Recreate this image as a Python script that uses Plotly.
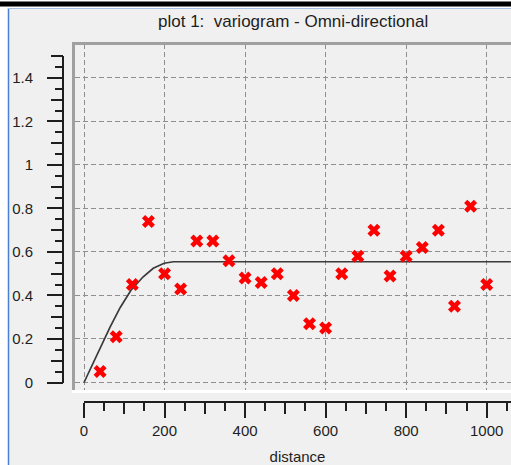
import plotly.graph_objects as go

# ---- data ----
lag_distance = [40, 80, 120, 160, 200, 240, 280, 320, 360, 400, 440, 480, 520,
                560, 600, 640, 680, 720, 760, 800, 840, 880, 920, 960, 1000]
semivariance = [0.05, 0.21, 0.45, 0.74, 0.50, 0.43, 0.65, 0.65, 0.56, 0.48, 0.46, 0.50, 0.40,
                0.27, 0.25, 0.50, 0.58, 0.70, 0.49, 0.58, 0.62, 0.70, 0.35, 0.81, 0.45]

model_distance = [0, 30, 65, 90, 117, 147, 172, 199, 222, 1060]
model_gamma = [0, 0.12, 0.256, 0.345, 0.425, 0.486, 0.525, 0.548, 0.555, 0.555]

x_major_ticks = [0, 200, 400, 600, 800, 1000]
y_major_ticks = [0, 0.2, 0.4, 0.6, 0.8, 1, 1.2, 1.4]
y_tick_text = ["0", "0.2", "0.4", "0.6", "0.8", "1", "1.2", "1.4"]

title_text = "plot 1:\u00a0 variogram - Omni-directional"
x_title = "distance"

# ---- layout helpers (pixels -> paper) ----
W, H = 511, 465
def px(x):
    return x / W
def py(y):
    return 1 - y / H

FONT = "Liberation Sans"
TXT = "#1e1e1e"
GRID = "#8f8f8f"

fig = go.Figure()

fig.add_trace(go.Scatter(
    x=model_distance, y=model_gamma, mode="lines",
    line=dict(color="#3a3a3a", width=1.7),
    hoverinfo="skip", showlegend=False, cliponaxis=True))

fig.add_trace(go.Scatter(
    x=lag_distance, y=semivariance, mode="markers",
    marker=dict(symbol="x", size=11.5, color="#ff0000", line=dict(width=0)),
    showlegend=False))

# dummy traces so the ruler axes get drawn
for xa, ya in [("x3", "y3"), ("x3", "y4"), ("x4", "y3")]:
    fig.add_trace(go.Scatter(x=[0], y=[0], xaxis=xa, yaxis=ya, mode="markers",
                             marker=dict(opacity=0), hoverinfo="skip", showlegend=False))

grid_common = dict(showgrid=True, gridcolor=GRID, gridwidth=1, griddash="5px,3px",
                   zeroline=False, showline=False, ticks="", showticklabels=False,
                   fixedrange=True, automargin=False)

ruler_common = dict(showgrid=False, zeroline=False, linecolor=TXT,
                    linewidth=2, ticks="outside", tickcolor=TXT, tickwidth=2,
                    fixedrange=True, anchor="free", automargin=False,
                    tickfont=dict(family=FONT, size=15, color=TXT))

x_lo = (75 - 84) / 0.4027
x_hi = (511 - 84) / 0.4027
y_lo = (382.5 - 390) / 217.6
y_hi = (382.5 - 44) / 217.6

fig.update_layout(
    width=W, height=H, autosize=False,
    margin=dict(l=0, r=0, t=0, b=0, pad=0, autoexpand=False),
    paper_bgcolor="#ffffff",
    plot_bgcolor="rgba(0,0,0,0)",
    showlegend=False,
    xaxis=dict(domain=[px(75), 1], range=[x_lo, x_hi], tickvals=x_major_ticks, **grid_common),
    yaxis=dict(domain=[py(390), py(44)], range=[y_lo, y_hi], tickvals=y_major_ticks, **grid_common),
    xaxis3=dict(domain=[px(84), 1], range=[0, x_hi], position=py(402), side="bottom",
                tickvals=x_major_ticks, ticklen=15, showline=True,
                minor=dict(dtick=100, tick0=0, ticklen=11, tickwidth=2, tickcolor=TXT, ticks="outside"),
                title=dict(text=x_title, font=dict(family=FONT, size=15, color=TXT), standoff=14),
                **ruler_common),
    xaxis4=dict(overlaying="x3", range=[0, x_hi], position=py(402), side="bottom",
                dtick=50, tick0=0, ticklen=8, showticklabels=False, showline=False,
                **ruler_common),
    yaxis3=dict(domain=[py(382.5), py(56.1)], range=[0, 1.5], position=px(63), side="left",
                tickvals=y_major_ticks, ticktext=y_tick_text, ticklen=15, showline=True,
                minor=dict(dtick=0.1, tick0=0, ticklen=11, tickwidth=2, tickcolor=TXT, ticks="outside"),
                ticklabelstandoff=11,
                **ruler_common),
    yaxis4=dict(overlaying="y3", range=[0, 1.5], position=px(63), side="left",
                dtick=0.05, tick0=0, ticklen=8, showticklabels=False, showline=False,
                **ruler_common),
    annotations=[dict(text=title_text, x=px(293), y=py(21), xref="paper", yref="paper",
                      xanchor="center", yanchor="middle", showarrow=False,
                      font=dict(family=FONT, size=17, color=TXT))],
    shapes=[
        dict(type="rect", xref="paper", yref="paper", x0=0, x1=1, y0=py(6.5), y1=py(1.5),
             fillcolor="#000000", line=dict(width=0), layer="below"),
        dict(type="rect", xref="paper", yref="paper", x0=px(8), x1=1, y0=0, y1=py(8),
             fillcolor="#f0f0f0", line=dict(width=0), layer="below"),
        dict(type="line", xref="paper", yref="paper", x0=px(8.5), x1=px(8.5), y0=0, y1=py(8),
             line=dict(color="#4a7fd4", width=1.5)),
        dict(type="line", xref="paper", yref="paper", x0=px(8), x1=1, y0=py(8.5), y1=py(8.5),
             line=dict(color="#a6bfe4", width=1)),
        dict(type="line", xref="paper", yref="paper", x0=px(73.5), x1=px(73.5), y0=py(392), y1=py(42),
             line=dict(color="#a0a0a0", width=3)),
        dict(type="line", xref="paper", yref="paper", x0=px(72), x1=1, y0=py(43.5), y1=py(43.5),
             line=dict(color="#a0a0a0", width=3)),
        dict(type="line", xref="paper", yref="paper", x0=px(72), x1=1, y0=py(391.5), y1=py(391.5),
             line=dict(color="#ffffff", width=3)),
    ],
)

fig.write_html("out.html",
               config={"displayModeBar": False, "responsive": False},
               post_script="document.body.style.margin='0';document.body.style.overflow='hidden';")
